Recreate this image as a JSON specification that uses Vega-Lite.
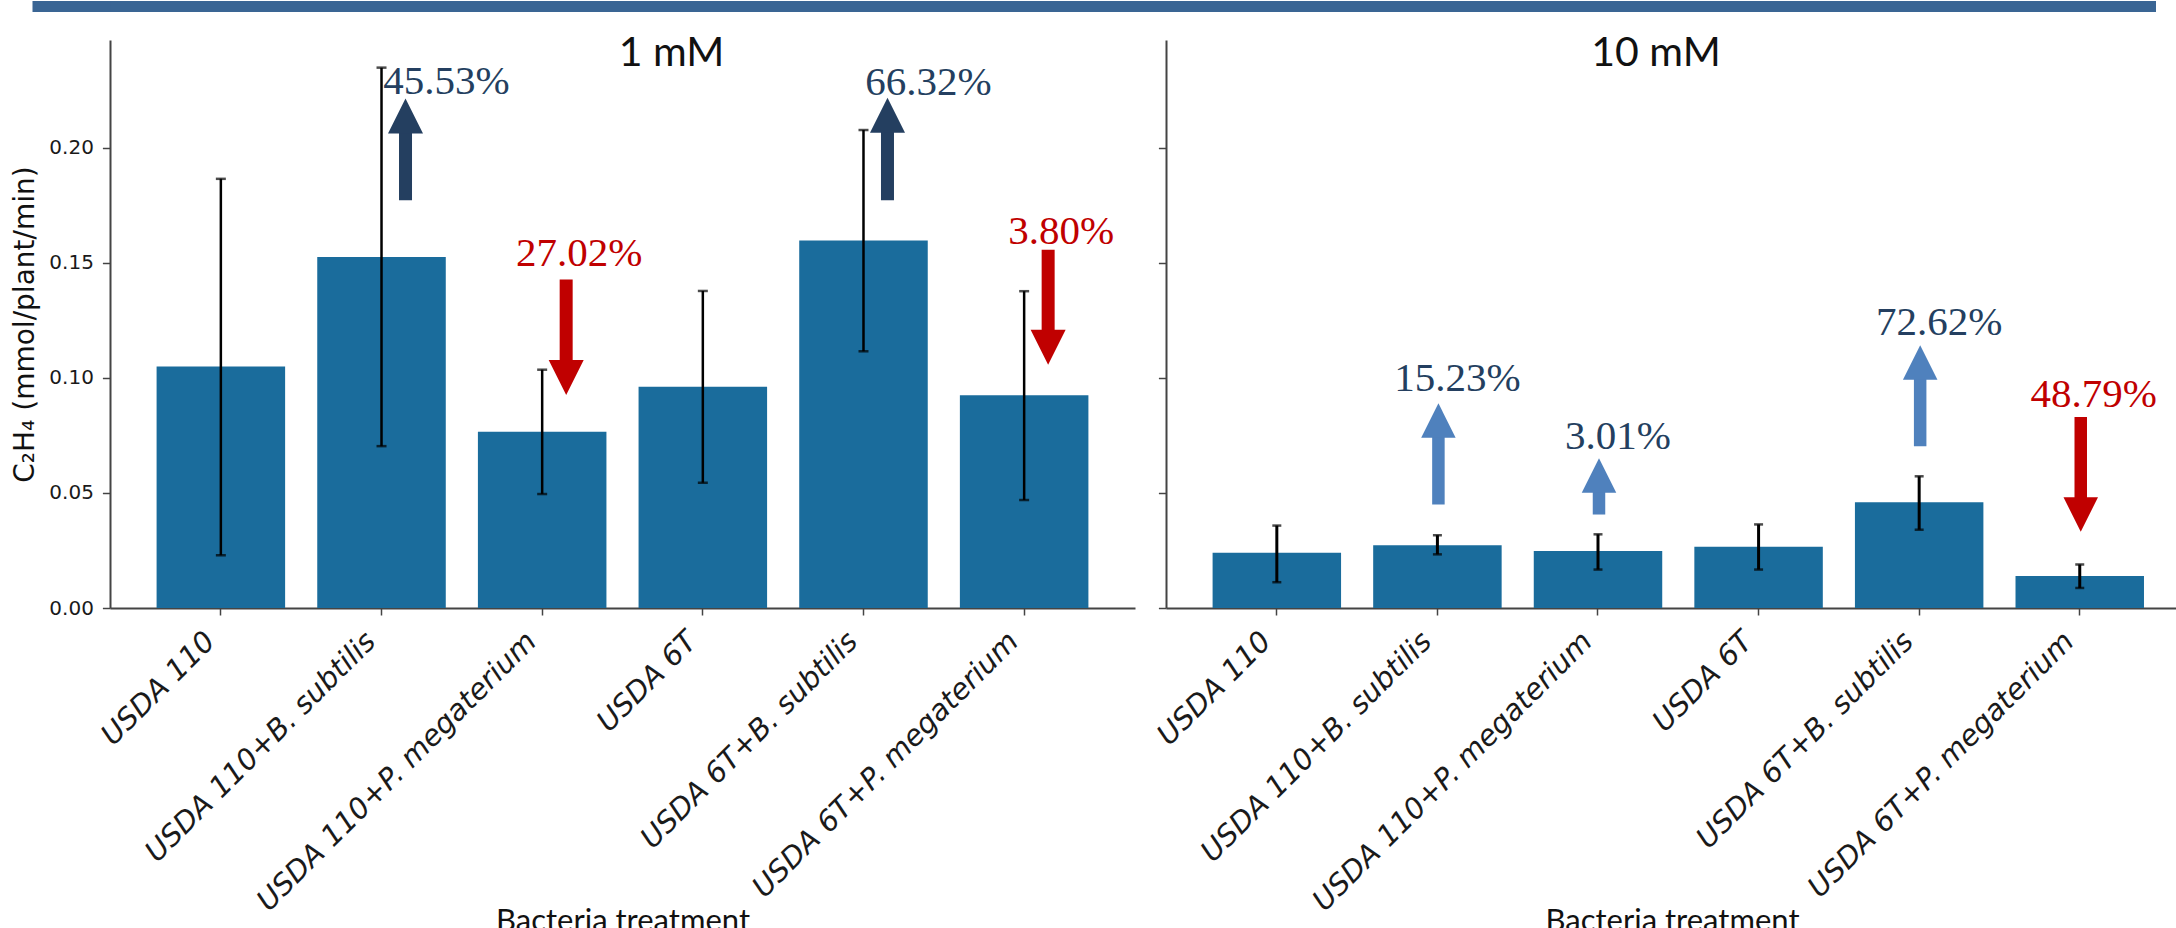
{
  "$schema": "https://vega.github.io/schema/vega-lite/v6.json",
  "padding": {"left": 11, "top": 0, "right": 0, "bottom": 0},
  "background": "white",
  "datasets": {
    "bars": [
      {"conc": "1 mM", "treatment": "USDA 110", "mean": 0.1049, "low": 0.0229, "high": 0.1864},
      {"conc": "1 mM", "treatment": "USDA 110+B. subtilis", "mean": 0.1525, "low": 0.0703, "high": 0.2347},
      {"conc": "1 mM", "treatment": "USDA 110+P. megaterium", "mean": 0.0766, "low": 0.0495, "high": 0.1035},
      {"conc": "1 mM", "treatment": "USDA 6T", "mean": 0.0961, "low": 0.0544, "high": 0.1377},
      {"conc": "1 mM", "treatment": "USDA 6T+B. subtilis", "mean": 0.1596, "low": 0.1115, "high": 0.2076},
      {"conc": "1 mM", "treatment": "USDA 6T+P. megaterium", "mean": 0.0924, "low": 0.0469, "high": 0.1376},
      {"conc": "10 mM", "treatment": "USDA 110", "mean": 0.0240, "low": 0.0112, "high": 0.0358},
      {"conc": "10 mM", "treatment": "USDA 110+B. subtilis", "mean": 0.0272, "low": 0.0233, "high": 0.0316},
      {"conc": "10 mM", "treatment": "USDA 110+P. megaterium", "mean": 0.0248, "low": 0.0167, "high": 0.0320},
      {"conc": "10 mM", "treatment": "USDA 6T", "mean": 0.0266, "low": 0.0167, "high": 0.0363},
      {"conc": "10 mM", "treatment": "USDA 6T+B. subtilis", "mean": 0.0459, "low": 0.0340, "high": 0.0572},
      {"conc": "10 mM", "treatment": "USDA 6T+P. megaterium", "mean": 0.0139, "low": 0.0087, "high": 0.0189}
    ],
    "notes": [
      {"conc": "1 mM", "treatment": "USDA 110+B. subtilis", "change": "45.53%", "direction": "increase", "arrow_from": 0.1771, "arrow_to": 0.2137, "label_at": 0.2231},
      {"conc": "1 mM", "treatment": "USDA 110+P. megaterium", "change": "27.02%", "direction": "decrease", "arrow_from": 0.1427, "arrow_to": 0.1001, "label_at": 0.1487},
      {"conc": "1 mM", "treatment": "USDA 6T+B. subtilis", "change": "66.32%", "direction": "increase", "arrow_from": 0.1771, "arrow_to": 0.2140, "label_at": 0.2227},
      {"conc": "1 mM", "treatment": "USDA 6T+P. megaterium", "change": "3.80%", "direction": "decrease", "arrow_from": 0.1556, "arrow_to": 0.1132, "label_at": 0.1582},
      {"conc": "10 mM", "treatment": "USDA 110+B. subtilis", "change": "15.23%", "direction": "increase", "arrow_from": 0.0449, "arrow_to": 0.0814, "label_at": 0.0943},
      {"conc": "10 mM", "treatment": "USDA 110+P. megaterium", "change": "3.01%", "direction": "increase", "arrow_from": 0.0406, "arrow_to": 0.0576, "label_at": 0.0689},
      {"conc": "10 mM", "treatment": "USDA 6T+B. subtilis", "change": "72.62%", "direction": "increase", "arrow_from": 0.0702, "arrow_to": 0.1066, "label_at": 0.1184},
      {"conc": "10 mM", "treatment": "USDA 6T+P. megaterium", "change": "48.79%", "direction": "decrease", "arrow_from": 0.0830, "arrow_to": 0.0406, "label_at": 0.0871}
    ]
  },
  "config": {
    "view": {"stroke": null},
    "axis": {"grid": false, "domainColor": "#444444", "domainWidth": 2, "tickColor": "#444444", "tickWidth": 1.5, "labelColor": "#1a1a1a", "titleColor": "#111111", "titleFontWeight": "normal"}
  },
  "spacing": 21,
  "vconcat": [
    {
      "width": 2046,
      "height": 11,
      "data": {"values": [{"t": ""}]},
      "mark": {"type": "text"},
      "encoding": {
        "text": {"field": "t"},
        "y": {"field": "t", "type": "nominal", "axis": {"title": null, "labels": false, "domain": false, "ticks": true, "tickSize": 78, "tickWidth": 11, "tickColor": "#3a6594", "tickBand": "center"}}
      },
      "view": {"fill": "#3a6594", "stroke": null}
    },
    {
      "hconcat": [
        {
          "width": 1025,
          "height": 568,
          "title": {"text": "1 mM", "font": "Lato", "fontSize": 41, "fontWeight": "normal", "color": "#111111", "anchor": "middle", "dx": 49, "dy": 41, "offset": -26, "baseline": "alphabetic"},
          "encoding": {
            "x": {
              "field": "treatment", "type": "nominal",
              "scale": {"domain": ["USDA 110", "USDA 110+B. subtilis", "USDA 110+P. megaterium", "USDA 6T", "USDA 6T+B. subtilis", "USDA 6T+P. megaterium"], "paddingInner": 0.2, "paddingOuter": 0.29},
              "axis": {"labelAngle": -45, "labelAlign": "right", "labelBaseline": "bottom", "labelFont": "DejaVu Sans", "labelFontStyle": "italic", "labelFontSize": 29, "labelPadding": 32, "labelLimit": 1000, "tickSize": 7, "titleFont": "Lato", "titleFontSize": 31, "titleBaseline": "top", "titleY": 298},
              "title": "Bacteria treatment"
            }
          },
          "layer": [
            {
              "data": {"name": "bars"},
              "transform": [{"filter": "datum.conc == '1 mM'"}],
              "mark": {"type": "bar", "color": "#1a6c9c"},
              "encoding": {
                "y": {"field": "mean", "type": "quantitative", "scale": {"domain": [0, 0.2467], "nice": false, "zero": true},
                  "axis": {"values": [0, 0.05, 0.1, 0.15, 0.2], "format": ".2f", "labelFont": "DejaVu Sans", "labelFontSize": 20, "labelPadding": 9, "tickSize": 7.6, "titleFont": "DejaVu Sans", "titleFontSize": 28, "titlePadding": 9},
                  "title": "C₂H₄ (mmol/plant/min)"}
              }
            },
            {
              "data": {"name": "bars"},
              "transform": [{"filter": "datum.conc == '1 mM'"}],
              "mark": {"type": "rule", "color": "black", "strokeWidth": 2.5},
              "encoding": {"y": {"field": "low", "type": "quantitative"}, "y2": {"field": "high"}}
            },
            {
              "data": {"name": "bars"},
              "transform": [{"filter": "datum.conc == '1 mM'"}],
              "mark": {"type": "tick", "color": "black", "size": 10, "thickness": 2.5, "orient": "horizontal"},
              "encoding": {"y": {"field": "low", "type": "quantitative"}}
            },
            {
              "data": {"name": "bars"},
              "transform": [{"filter": "datum.conc == '1 mM'"}],
              "mark": {"type": "tick", "color": "black", "size": 10, "thickness": 2.5, "orient": "horizontal"},
              "encoding": {"y": {"field": "high", "type": "quantitative"}}
            },
            {
              "data": {"name": "notes"},
              "transform": [{"filter": "datum.conc == '1 mM'"}],
              "mark": {"type": "rule", "strokeWidth": 13, "strokeCap": "butt", "xOffset": 24},
              "encoding": {
                "y": {"field": "arrow_from", "type": "quantitative"}, "y2": {"field": "arrow_to"},
                "color": {"condition": {"test": "datum.direction == 'increase'", "value": "#243f60"}, "value": "#c00000"}
              }
            },
            {
              "data": {"name": "notes"},
              "transform": [{"filter": "datum.conc == '1 mM'"}],
              "mark": {"type": "point", "filled": true, "opacity": 1, "size": 1225, "strokeWidth": 0, "xOffset": 24},
              "encoding": {
                "y": {"field": "arrow_to", "type": "quantitative"},
                "shape": {"condition": {"test": "datum.direction == 'increase'", "value": "M-1,1L0,-1L1,1Z"}, "value": "M-1,-1L0,1L1,-1Z"},
                "color": {"condition": {"test": "datum.direction == 'increase'", "value": "#243f60"}, "value": "#c00000"}
              }
            },
            {
              "data": {"name": "notes"},
              "transform": [{"filter": "datum.conc == '1 mM' && datum.direction == 'increase'"}],
              "mark": {"type": "text", "font": "Liberation Serif", "fontSize": 41, "align": "center", "baseline": "alphabetic", "dx": 65, "color": "#243f60"},
              "encoding": {
                "y": {"field": "label_at", "type": "quantitative"},
                "text": {"field": "change"}
              }
            },
            {
              "data": {"name": "notes"},
              "transform": [{"filter": "datum.conc == '1 mM' && datum.direction == 'decrease'"}],
              "mark": {"type": "text", "font": "Liberation Serif", "fontSize": 41, "align": "center", "baseline": "alphabetic", "dx": 37, "color": "#c00000"},
              "encoding": {
                "y": {"field": "label_at", "type": "quantitative"},
                "text": {"field": "change"}
              }
            }
          ]
        },
        {
          "width": 1012,
          "height": 568,
          "title": {"text": "10 mM", "font": "Lato", "fontSize": 41, "fontWeight": "normal", "color": "#111111", "anchor": "middle", "dx": -16, "dy": 41, "offset": -26, "baseline": "alphabetic"},
          "encoding": {
            "x": {
              "field": "treatment", "type": "nominal",
              "scale": {"domain": ["USDA 110", "USDA 110+B. subtilis", "USDA 110+P. megaterium", "USDA 6T", "USDA 6T+B. subtilis", "USDA 6T+P. megaterium"], "paddingInner": 0.2, "paddingOuter": 0.251, "align": 0.578},
              "axis": {"labelAngle": -45, "labelAlign": "right", "labelBaseline": "bottom", "labelFont": "DejaVu Sans", "labelFontStyle": "italic", "labelFontSize": 29, "labelPadding": 32, "labelLimit": 1000, "tickSize": 7, "titleFont": "Lato", "titleFontSize": 31, "titleBaseline": "top", "titleY": 298},
              "title": "Bacteria treatment"
            }
          },
          "layer": [
            {
              "data": {"name": "bars"},
              "transform": [{"filter": "datum.conc == '10 mM'"}],
              "mark": {"type": "bar", "color": "#1a6c9c"},
              "encoding": {
                "y": {"field": "mean", "type": "quantitative", "scale": {"domain": [0, 0.2467], "nice": false, "zero": true},
                  "axis": {"values": [0, 0.05, 0.1, 0.15, 0.2], "labels": false, "tickSize": 7.6, "title": null}}
              }
            },
            {
              "data": {"name": "bars"},
              "transform": [{"filter": "datum.conc == '10 mM'"}],
              "mark": {"type": "rule", "color": "black", "strokeWidth": 3},
              "encoding": {"y": {"field": "low", "type": "quantitative"}, "y2": {"field": "high"}}
            },
            {
              "data": {"name": "bars"},
              "transform": [{"filter": "datum.conc == '10 mM'"}],
              "mark": {"type": "tick", "color": "black", "size": 9, "thickness": 2.5, "orient": "horizontal"},
              "encoding": {"y": {"field": "low", "type": "quantitative"}}
            },
            {
              "data": {"name": "bars"},
              "transform": [{"filter": "datum.conc == '10 mM'"}],
              "mark": {"type": "tick", "color": "black", "size": 9, "thickness": 2.5, "orient": "horizontal"},
              "encoding": {"y": {"field": "high", "type": "quantitative"}}
            },
            {
              "data": {"name": "notes"},
              "transform": [{"filter": "datum.conc == '10 mM'"}],
              "mark": {"type": "rule", "strokeWidth": 12.5, "strokeCap": "butt", "xOffset": 1},
              "encoding": {
                "y": {"field": "arrow_from", "type": "quantitative"}, "y2": {"field": "arrow_to"},
                "color": {"condition": {"test": "datum.direction == 'increase'", "value": "#4f81bd"}, "value": "#c00000"}
              }
            },
            {
              "data": {"name": "notes"},
              "transform": [{"filter": "datum.conc == '10 mM'"}],
              "mark": {"type": "point", "filled": true, "opacity": 1, "size": 1190, "strokeWidth": 0, "xOffset": 1},
              "encoding": {
                "y": {"field": "arrow_to", "type": "quantitative"},
                "shape": {"condition": {"test": "datum.direction == 'increase'", "value": "M-1,1L0,-1L1,1Z"}, "value": "M-1,-1L0,1L1,-1Z"},
                "color": {"condition": {"test": "datum.direction == 'increase'", "value": "#4f81bd"}, "value": "#c00000"}
              }
            },
            {
              "data": {"name": "notes"},
              "transform": [{"filter": "datum.conc == '10 mM' && datum.direction == 'increase'"}],
              "mark": {"type": "text", "font": "Liberation Serif", "fontSize": 41, "align": "center", "baseline": "alphabetic", "dx": 20, "color": "#243f60"},
              "encoding": {
                "y": {"field": "label_at", "type": "quantitative"},
                "text": {"field": "change"}
              }
            },
            {
              "data": {"name": "notes"},
              "transform": [{"filter": "datum.conc == '10 mM' && datum.direction == 'decrease'"}],
              "mark": {"type": "text", "font": "Liberation Serif", "fontSize": 41, "align": "center", "baseline": "alphabetic", "dx": 14, "color": "#c00000"},
              "encoding": {
                "y": {"field": "label_at", "type": "quantitative"},
                "text": {"field": "change"}
              }
            }
          ]
        }
      ],
      "spacing": 31,
      "bounds": "flush",
      "resolve": {"scale": {"x": "independent", "y": "independent"}}
    }
  ]
}
